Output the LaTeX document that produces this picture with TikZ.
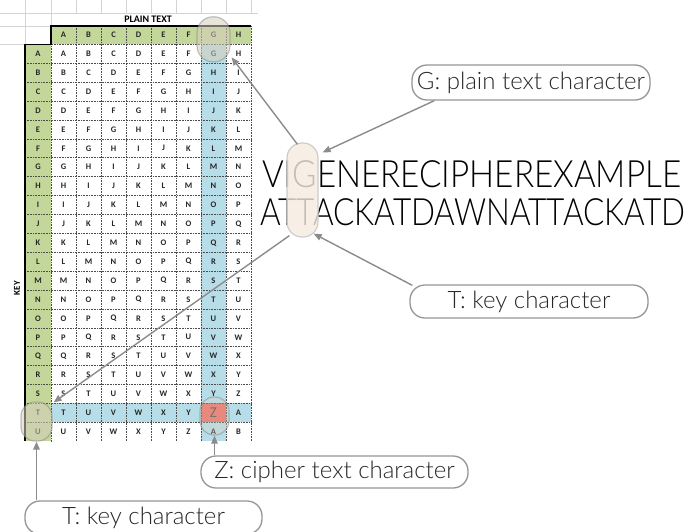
\documentclass[tikz,border=0pt]{standalone}
\usepackage{fontspec}
\setmainfont{TeX Gyre Heros}
\newfontfamily\cellfont{Carlito}
\IfFontExistsTF{Lato Light}{\newfontfamily\lightfont{Lato Light}}{%
  \IfFontExistsTF{Lato-Light}{\newfontfamily\lightfont{Lato-Light}}{\newfontfamily\lightfont{TeX Gyre Heros}}}
\usetikzlibrary{arrows.meta,calc}

\definecolor{cellgreen}{RGB}{196,215,155}
\definecolor{cellblue}{RGB}{183,222,232}
\definecolor{cellred}{RGB}{242,108,98}
\definecolor{gridgrey}{RGB}{212,212,212}
\definecolor{linkgrey}{RGB}{140,140,140}
\definecolor{boxgrey}{RGB}{150,150,150}
\definecolor{labeltext}{RGB}{40,40,40}
\definecolor{pillfill}{RGB}{245,235,223}
\definecolor{halofill}{RGB}{214,206,188}

\begin{document}
\begin{tikzpicture}[x=1pt,y=-1pt,
  cell/.style={inner sep=0pt, font=\cellfont\bfseries\fontsize{8.5}{9}\selectfont, text=black!85},
  callout/.style={draw=boxgrey, line width=1.3pt, fill=white, rounded corners=15pt,
    inner sep=0pt, text=labeltext, font=\lightfont\fontsize{24}{26}\selectfont},
  link/.style={draw=linkgrey, line width=1.4pt, -{Triangle[length=8pt,width=6.5pt]}},
  halo/.style={draw=gray, draw opacity=0.45, line width=1.2pt, fill=halofill,
    fill opacity=0.55, inner sep=0pt, rounded corners=14pt},
  celldots/.style={line width=0.6pt, black!70, dash pattern=on 0.8pt off 0.8pt},
  bigline/.style={anchor=base west, inner sep=0pt, font=\lightfont\fontsize{37.6}{38}\selectfont, text=black},
]
\useasboundingbox (0,0) rectangle (688,531);
\fill[white] (0,0) rectangle (688,531);

% faint spreadsheet gridlines above the table
\draw[gridgrey, line width=0.6pt] (0,13) -- (258,13) (0,26) -- (51,26) (0,44.3) -- (25,44.3)
  (25.5,0) -- (25.5,44.3) (51,0) -- (51,26);
\foreach \i in {1,...,8} \draw[gridgrey, line width=0.6pt] (51+25*\i,0) -- (51+25*\i,13);

% cell shading
\fill[cellgreen] (51,26) rectangle (251,44.3);
\fill[cellgreen] (25,44.3) rectangle (51,441.2);
\fill[cellblue] (201,44.3) rectangle (226,441.2);
\fill[cellblue] (51,403.4) rectangle (251,422.3);
\fill[cellred] (201,403.4) rectangle (226,422.3);

% dotted cell borders
\foreach \r in {0,...,20} \draw[celldots] (25,44.3+18.9*\r) -- (251,44.3+18.9*\r);
\foreach \c in {1,...,8} \draw[celldots] (51+25*\c,26) -- (51+25*\c,441.2);
\draw[celldots] (51,44.3) -- (51,441.2);

% heavy outline of the headers
\draw[line width=1.6pt] (251,26) -- (51,26) -- (51,44.3) -- (25,44.3) -- (25,441.2);

% header letters
\foreach \c in {0,...,7}{
  \node[cell] (h-\c) at (63.5+25*\c,35.2) {\char\numexpr65+\c\relax};
}
% key letters and the tableau
\foreach \r in {0,...,20}{
  \node[cell] (k-\r) at (38,53.75+18.9*\r) {\char\numexpr65+\r\relax};
  \foreach \c in {0,...,7}{
    \pgfmathtruncatemacro\k{mod(\r+\c,26)}
    \pgfmathtruncatemacro\isz{and(\r==19,\c==6)}
    \ifnum\isz=1
      \node[cell, font=\cellfont\fontsize{15}{15}\selectfont, text=black!70] (c-\r-\c)
        at (63.5+25*\c,53.5+18.9*\r) {\char\numexpr65+\k\relax};
    \else
      \node[cell] (c-\r-\c) at (63.5+25*\c,53.75+18.9*\r) {\char\numexpr65+\k\relax};
    \fi
  }
}

\node (plainhdr) at (148,19.5) {\cellfont\bfseries\fontsize{10}{10}\selectfont PLAIN TEXT};
\node[rotate=90] (keyhdr) at (17,288) {\cellfont\bfseries\fontsize{9}{9}\selectfont KEY};

% highlight rings on the tableau
\node[halo, minimum width=33pt, minimum height=45pt, rounded corners=16pt] (gring) at (213.5,39.3) {};
\node[halo, minimum width=31pt, minimum height=39pt] (tring) at (36.5,421.5) {};
\node[halo, fill opacity=0.3, minimum width=29pt, minimum height=38pt] (zring) at (214.5,416) {};

% message and key
\node[bigline] (plain) at (262,187) {\resizebox{419pt}{\height}{VIGENERECIPHEREXAMPLE}};
\node[bigline] (keyline) at (260,225) {\resizebox{425pt}{\height}{ATTACKATDAWNATTACKATD}};
\node[draw=black!20, line width=1.2pt, fill=pillfill, fill opacity=0.8, inner sep=0pt,
  minimum width=31pt, minimum height=94pt, rounded corners=15pt] (col) at (302.5,190) {};

% callouts
\node[callout, minimum width=238pt, minimum height=35pt] (glabel) at (531,82.5) {G: plain text character};
\node[callout, minimum width=238pt, minimum height=33pt] (tlabel) at (529,301.5) {T: key character};
\node[callout, minimum width=267pt, minimum height=32pt] (zlabel) at (334.5,472) {Z: cipher text character};
\node[callout, minimum width=237pt, minimum height=33pt] (tlabel2) at (143.5,517.5) {T: key character};

% connectors
\draw[link] ($(glabel.south west)+(23,0)$) -- ($(col.north east)+(4,10)$);
\draw[link] ($(col.north)+(-5,2)$) -- ($(gring.south east)+(1,-5)$);
\draw[link] ($(col.south west)+(3,-2)$) -- ($(tring.north east)+(1,1)$);
\draw[link] ($(tlabel.north west)+(3,1)$) -- ($(col.south east)+(-5,-4)$);
\draw[link] (zring.south |- zlabel.north) -- (zring.south);
\draw[link] (tring.south |- tlabel2.north) -- (tring.south);
\end{tikzpicture}
\end{document}
